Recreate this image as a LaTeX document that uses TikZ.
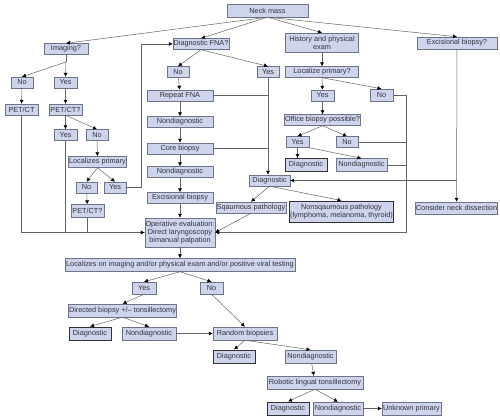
\documentclass[tikz,border=0pt]{standalone}
\usepackage{fontspec}
\setmainfont{Liberation Sans}
\usetikzlibrary{arrows.meta}
\definecolor{boxfill}{RGB}{205,212,236}
\definecolor{boxline}{RGB}{110,116,135}
\definecolor{wire}{RGB}{100,100,100}
\definecolor{ink}{RGB}{50,50,60}
\begin{document}
\begin{tikzpicture}[x=1pt,y=-1pt,
  >={Latex[length=4pt,width=4pt,color=black]},
  box/.style={draw=boxline, fill=boxfill, text=ink, font=\fontsize{7.3}{8.2}\selectfont,
    align=center, inner sep=0.5pt, minimum height=11pt},
  endbox/.style={box, draw=black!80, line width=0.9pt},
  wire/.style={draw=wire, line width=0.5pt}]
\useasboundingbox (0,0) rectangle (500,419);

\node[box, minimum width=81pt, minimum height=13pt] (neck) at (267.5,10.5)
{Neck mass};
\node[box, minimum width=44pt] (img) at (66,49)
{Imaging?};
\node[box, minimum width=56pt] (fna) at (201,44)
{Diagnostic FNA?};
\node[box, minimum width=73pt, minimum height=19pt] (hist) at (322,42.5)
{History and physical\\exam};
\node[box, minimum width=80pt, minimum height=12pt] (exq) at (457,43)
{Excisional biopsy?};

\node[box, minimum width=22pt] (noa) at (22,82.5)
{No};
\node[box, minimum width=23pt] (yesa) at (65.5,82.5)
{Yes};
\node[box, minimum width=33pt] (pet) at (21.5,109.5)
{PET/CT};
\node[box, minimum width=33pt] (petq) at (65.5,109.5)
{PET/CT?};
\node[box, minimum width=23pt] (yesb) at (65.5,135)
{Yes};
\node[box, minimum width=22pt] (nob) at (97,135)
{No};
\node[box, minimum width=57pt] (locp) at (97.5,162)
{Localizes primary};
\node[box, minimum width=21pt] (noc) at (86.5,187.5)
{No};
\node[box, minimum width=22pt] (yesc) at (115,187.5)
{Yes};
\node[box, minimum width=33pt, minimum height=13pt] (petr) at (87.5,211)
{PET/CT?};

\node[box, minimum width=22pt] (nod) at (178,72)
{No};
\node[box, minimum width=22pt] (yesd) at (268,72)
{Yes};
\node[box, minimum width=66pt] (rep) at (180,95.5)
{Repeat FNA};
\node[box, minimum width=66pt] (nda) at (180,122)
{Nondiagnostic};
\node[box, minimum width=66pt] (core) at (180,148.5)
{Core biopsy};
\node[box, minimum width=66pt] (ndb) at (180,172)
{Nondiagnostic};
\node[box, minimum width=66pt] (exb) at (180,198)
{Excisional biopsy};
\node[box, minimum width=66pt, minimum height=29pt] (oper) at (180,232.5)
{Operative evaluation:\\Direct laryngoscopy\\bimanual palpation};

\node[box, minimum width=73pt] (locq) at (322,72)
{Localize primary?};
\node[box, minimum width=23pt] (yese) at (322.5,95.5)
{Yes};
\node[box, minimum width=23pt, minimum height=12pt] (noe) at (381.5,95)
{No};
\node[box, minimum width=73pt] (off) at (322.5,120)
{Office biopsy possible?};
\node[box, minimum width=23pt] (yesf) at (297.5,142)
{Yes};
\node[box, minimum width=22pt] (nof) at (347,142)
{No};
\node[endbox, minimum width=42pt, minimum height=13pt] (dga) at (306,165)
{Diagnostic};
\node[box, minimum width=51pt, minimum height=13pt] (ndc) at (361.5,165)
{Nondiagnostic};
\node[box, minimum width=41pt] (dgb) at (269.5,180.5)
{Diagnostic};
\node[box, minimum width=68pt] (sq) at (251,207.5)
{Sqaumous pathology};
\node[endbox, minimum width=103pt, minimum height=21pt] (nsq) at (341.5,211.5)
{Nonsqaumous pathology\\(lymphoma, melanoma, thyroid)};
\node[box, minimum width=81pt, minimum height=12pt] (nkd) at (456.5,208)
{Consider neck dissection};

\node[box, minimum width=230pt, minimum height=13pt] (loci) at (180,265)
{Localizes on imaging and/or physical exam and/or positive viral testing};
\node[box, minimum width=24pt, minimum height=12pt] (yesg) at (144,288)
{Yes};
\node[box, minimum width=23pt, minimum height=12pt] (nog) at (211.5,288)
{No};
\node[box, minimum width=107pt, minimum height=13pt] (dir) at (122.5,310.5)
{Directed biopsy +/-- tonsillectomy};
\node[endbox, minimum width=42pt, minimum height=13pt] (dgc) at (90,333.5)
{Diagnostic};
\node[box, minimum width=54pt, minimum height=13pt] (ndd) at (149,333.5)
{Nondiagnostic};
\node[box, minimum width=64pt, minimum height=13pt] (rnd) at (245,333.5)
{Random biopsies};
\node[endbox, minimum width=42pt, minimum height=13pt] (dgd) at (234,356.5)
{Diagnostic};
\node[box, minimum width=51pt, minimum height=13pt] (nde) at (310.5,356.5)
{Nondiagnostic};
\node[box, minimum width=96pt, minimum height=13pt] (rob) at (315,382.5)
{Robotic lingual tonsillectomy};
\node[endbox, minimum width=42pt, minimum height=13pt] (dge) at (288,408.5)
{Diagnostic};
\node[box, minimum width=50pt, minimum height=13pt] (ndf) at (338,408.5)
{Nondiagnostic};
\node[box, minimum width=59pt, minimum height=13pt] (unk) at (411.5,408.5)
{Unknown primary};

\coordinate (imgsplit) at (66,62);
\coordinate (rightrail) at (406,95);

\draw[wire,->] (neck.south) -- (img.north);
\draw[wire,->] (neck.south) -- (fna.north);
\draw[wire,->] (neck.south) -- (hist.north);
\draw[wire,->] (neck.south) -- (exq.north);

\draw[wire] (img.south) -- (imgsplit);
\draw[wire,->] (imgsplit) -- (noa.north);
\draw[wire,->] (imgsplit) -- (yesa.north);
\draw[wire,->] (noa) -- (pet);
\draw[wire,->] (yesa) -- (petq);
\draw[wire,->] (petq) -- (yesb);
\draw[wire,->] (petq.south) -- (nob.north);
\draw[wire,->] (nob) -- (locp);
\draw[wire,->] (locp.south) -- (noc.north);
\draw[wire,->] (locp.south) -- (yesc.north);
\draw[wire,->] (noc) -- (petr);
\draw[wire,->] (yesc.east) -- ++(15,0) |- (fna.west);
\draw[wire,->] (pet.south) |- (oper.west);
\draw[wire] (yesb.south) -- (yesb.south |- oper.west);
\draw[wire] (petr.south) -- (petr.south |- oper.west);

\draw[wire,->] (fna.south) -- (nod.north);
\draw[wire,->] (fna.south) -- (yesd.north);
\draw[wire,->] (nod) -- (rep);
\draw[wire,->] (rep) -- (nda);
\draw[wire,->] (nda) -- (core);
\draw[wire,->] (core) -- (ndb);
\draw[wire,->] (ndb) -- (exb);
\draw[wire,->] (exb) -- (oper);
\draw[wire,->] (oper) -- (loci);
\draw[wire,->] (yesd.south) -- (yesd.south |- dgb.north);
\draw[wire] (rep.east) -- (rep.east -| yesd.south);
\draw[wire] (core.east) -- (core.east -| yesd.south);

\draw[wire,->] (hist) -- (locq);
\draw[wire,->] (locq) -- (yese);
\draw[wire,->] (locq.south) -- (noe.north);
\draw[wire,->] (yese) -- (off);
\draw[wire,->] (off.south) -- (yesf.north);
\draw[wire,->] (off.south) -- (nof.north);
\draw[wire,->] (yesf.south) -- (yesf.south |- dga.north);
\draw[wire,->] (yesf.south east) -- (ndc.north);
\draw[wire] (noe.east) -- (rightrail);
\draw[wire,->] (rightrail) |- (oper.east);
\draw[wire] (nof.east) -- (nof.east -| rightrail);
\draw[wire] (ndc.east) -- (ndc.east -| rightrail);
\draw[wire,->] (exq) -- (nkd);
\draw[wire,->] (exq.south |- dgb.east) -- (dgb.east);
\draw[wire,->] (dgb.south) -- (sq.north);
\draw[wire,->] (dgb.south) -- (nsq.north);
\draw[wire,->] (sq.south) -- (oper.east);

\draw[wire,->] (loci.south) -- (yesg.north);
\draw[wire,->] (loci.south) -- (nog.north);
\draw[wire,->] (yesg.south) -- (dir.north);
\draw[wire,->] (nog.south) -- (rnd.north);
\draw[wire,->] (dir.south) -- (dgc.north);
\draw[wire,->] (dir.south) -- (ndd.north);
\draw[wire,->] (ndd) -- (rnd);
\draw[wire,->] (rnd.south) -- (dgd.north);
\draw[wire,->] (rnd.south) -- (nde.north);
\draw[wire,->] (nde) -- (rob);
\draw[wire,->] (rob.south) -- (dge.north);
\draw[wire,->] (rob.south) -- (ndf.north);
\draw[wire,->] (ndf) -- (unk);
\end{tikzpicture}
\end{document}
